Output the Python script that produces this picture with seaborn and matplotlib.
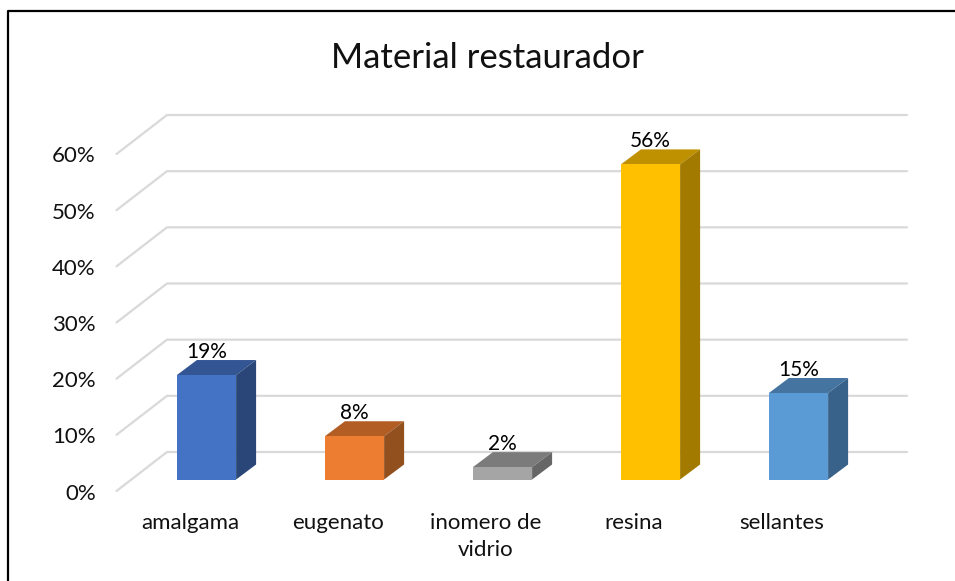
import matplotlib
matplotlib.use("Agg")
import matplotlib.pyplot as plt
import seaborn as sns
import pandas as pd
from matplotlib.patches import Polygon
from matplotlib.lines import Line2D
from matplotlib.transforms import ScaledTranslation

# Data
materials = ["amalgama", "eugenato", "inomero de\nvidrio", "resina", "sellantes"]
percent = [18.6, 7.7, 2.2, 56.1, 15.4]
y_ticks = [0, 10, 20, 30, 40, 50, 60]
front_colors = ["#4472C4", "#ED7D31", "#A5A5A5", "#FFC000", "#5B9BD5"]
top_colors = ["#335593", "#B15D24", "#7B7B7B", "#BF9000", "#44749F"]
side_colors = ["#2A4679", "#93501F", "#666666", "#A27A00", "#38628A"]

W, H = 955, 581
DPI = 100

sns.set_theme(style="white")
plt.rcParams["font.family"] = ["Lato", "DejaVu Sans"]

fig = plt.figure(figsize=(W / DPI, H / DPI), dpi=DPI)
# axes = the plane of the bar fronts, in pixels of the picture
left, right, bottom, top = 132.5, 872.5, 479.5, 142.5
ax = fig.add_axes([left / W, 1 - bottom / H, (right - left) / W, (bottom - top) / H])

data = pd.DataFrame({"material": materials, "percent": percent})
sns.barplot(data=data, x="material", y="percent", hue="material", palette=front_colors,
            width=0.4, legend=False, ax=ax, zorder=5, saturation=1, linewidth=0)
ax.set_xlim(-0.5, 4.5)
ax.set_ylim(0, 60)
ax.set_xlabel("")
ax.set_ylabel("")
sns.despine(ax=ax, left=True, bottom=True, top=True, right=True)
ax.patch.set_alpha(0)

px_x = (right - left) / 5  # pixels per category
px_y = (bottom - top) / 60  # pixels per percent


def shift(dx, dy):
    # pixel offset -> data offset
    return dx / px_x, -dy / px_y


# walls: back at +34,-27.5 from the bar plane, front of floor at -16,+11.5
grid = "#D9D9D9"
bx, by = shift(34.5, -27.5)
fx, fy = shift(-16, 11.5)
for t in y_ticks:
    ax.plot([-0.5 + fx, -0.5 + bx, 4.5 + bx], [t + fy, t + by, t + by], color=grid,
            lw=1.6, clip_on=False, zorder=1, solid_joinstyle="round")

# depth faces of each bar
dx, dy = shift(20, -15)
lx, ly = shift(0, -17.5)
for bar, c_top, c_side in zip(ax.patches, top_colors, side_colors):
    x0, x1 = bar.get_x(), bar.get_x() + bar.get_width()
    h = bar.get_height()
    ax.add_patch(Polygon([(x0, h), (x1, h), (x1 + dx, h + dy), (x0 + dx, h + dy)],
                         closed=True, fc=c_top, ec="none", clip_on=False, zorder=4))
    ax.add_patch(Polygon([(x1, 0), (x1 + dx, dy), (x1 + dx, h + dy), (x1, h)],
                         closed=True, fc=c_side, ec="none", clip_on=False, zorder=4))
    ax.text((x0 + x1) / 2, h + ly + 1.0, f"{round(h)}%", ha="center", va="center",
            fontsize=15, color="black", zorder=6, clip_on=False)

# tick labels sit in front of the floor
ax.tick_params(axis="both", length=0)
ax.set_yticks(y_ticks)
ax.set_yticklabels([f"{t}%" for t in y_ticks], fontsize=16, color="#111111")
for lab in ax.get_yticklabels():
    lab.set_transform(lab.get_transform() + ScaledTranslation(-32 / DPI, -12 / DPI, fig.dpi_scale_trans))
ax.set_xticks(range(len(materials)))
ax.set_xticklabels(materials, fontsize=16, color="#111111", linespacing=1.4)
for lab in ax.get_xticklabels():
    lab.set_transform(lab.get_transform() + ScaledTranslation(-16.5 / DPI, -29 / DPI, fig.dpi_scale_trans))

fig.text(487 / W, 1 - 57.5 / H, "Material restaurador", ha="center", va="center", fontsize=25, color="#111111")

# chart frame, cropped at the right and bottom in the original
fig.add_artist(Line2D([8 / W, 8 / W, 1], [0, 1 - 11 / H, 1 - 11 / H],
                      color="black", lw=1.6, transform=fig.transFigure))

fig.savefig("out.png", dpi=DPI)
